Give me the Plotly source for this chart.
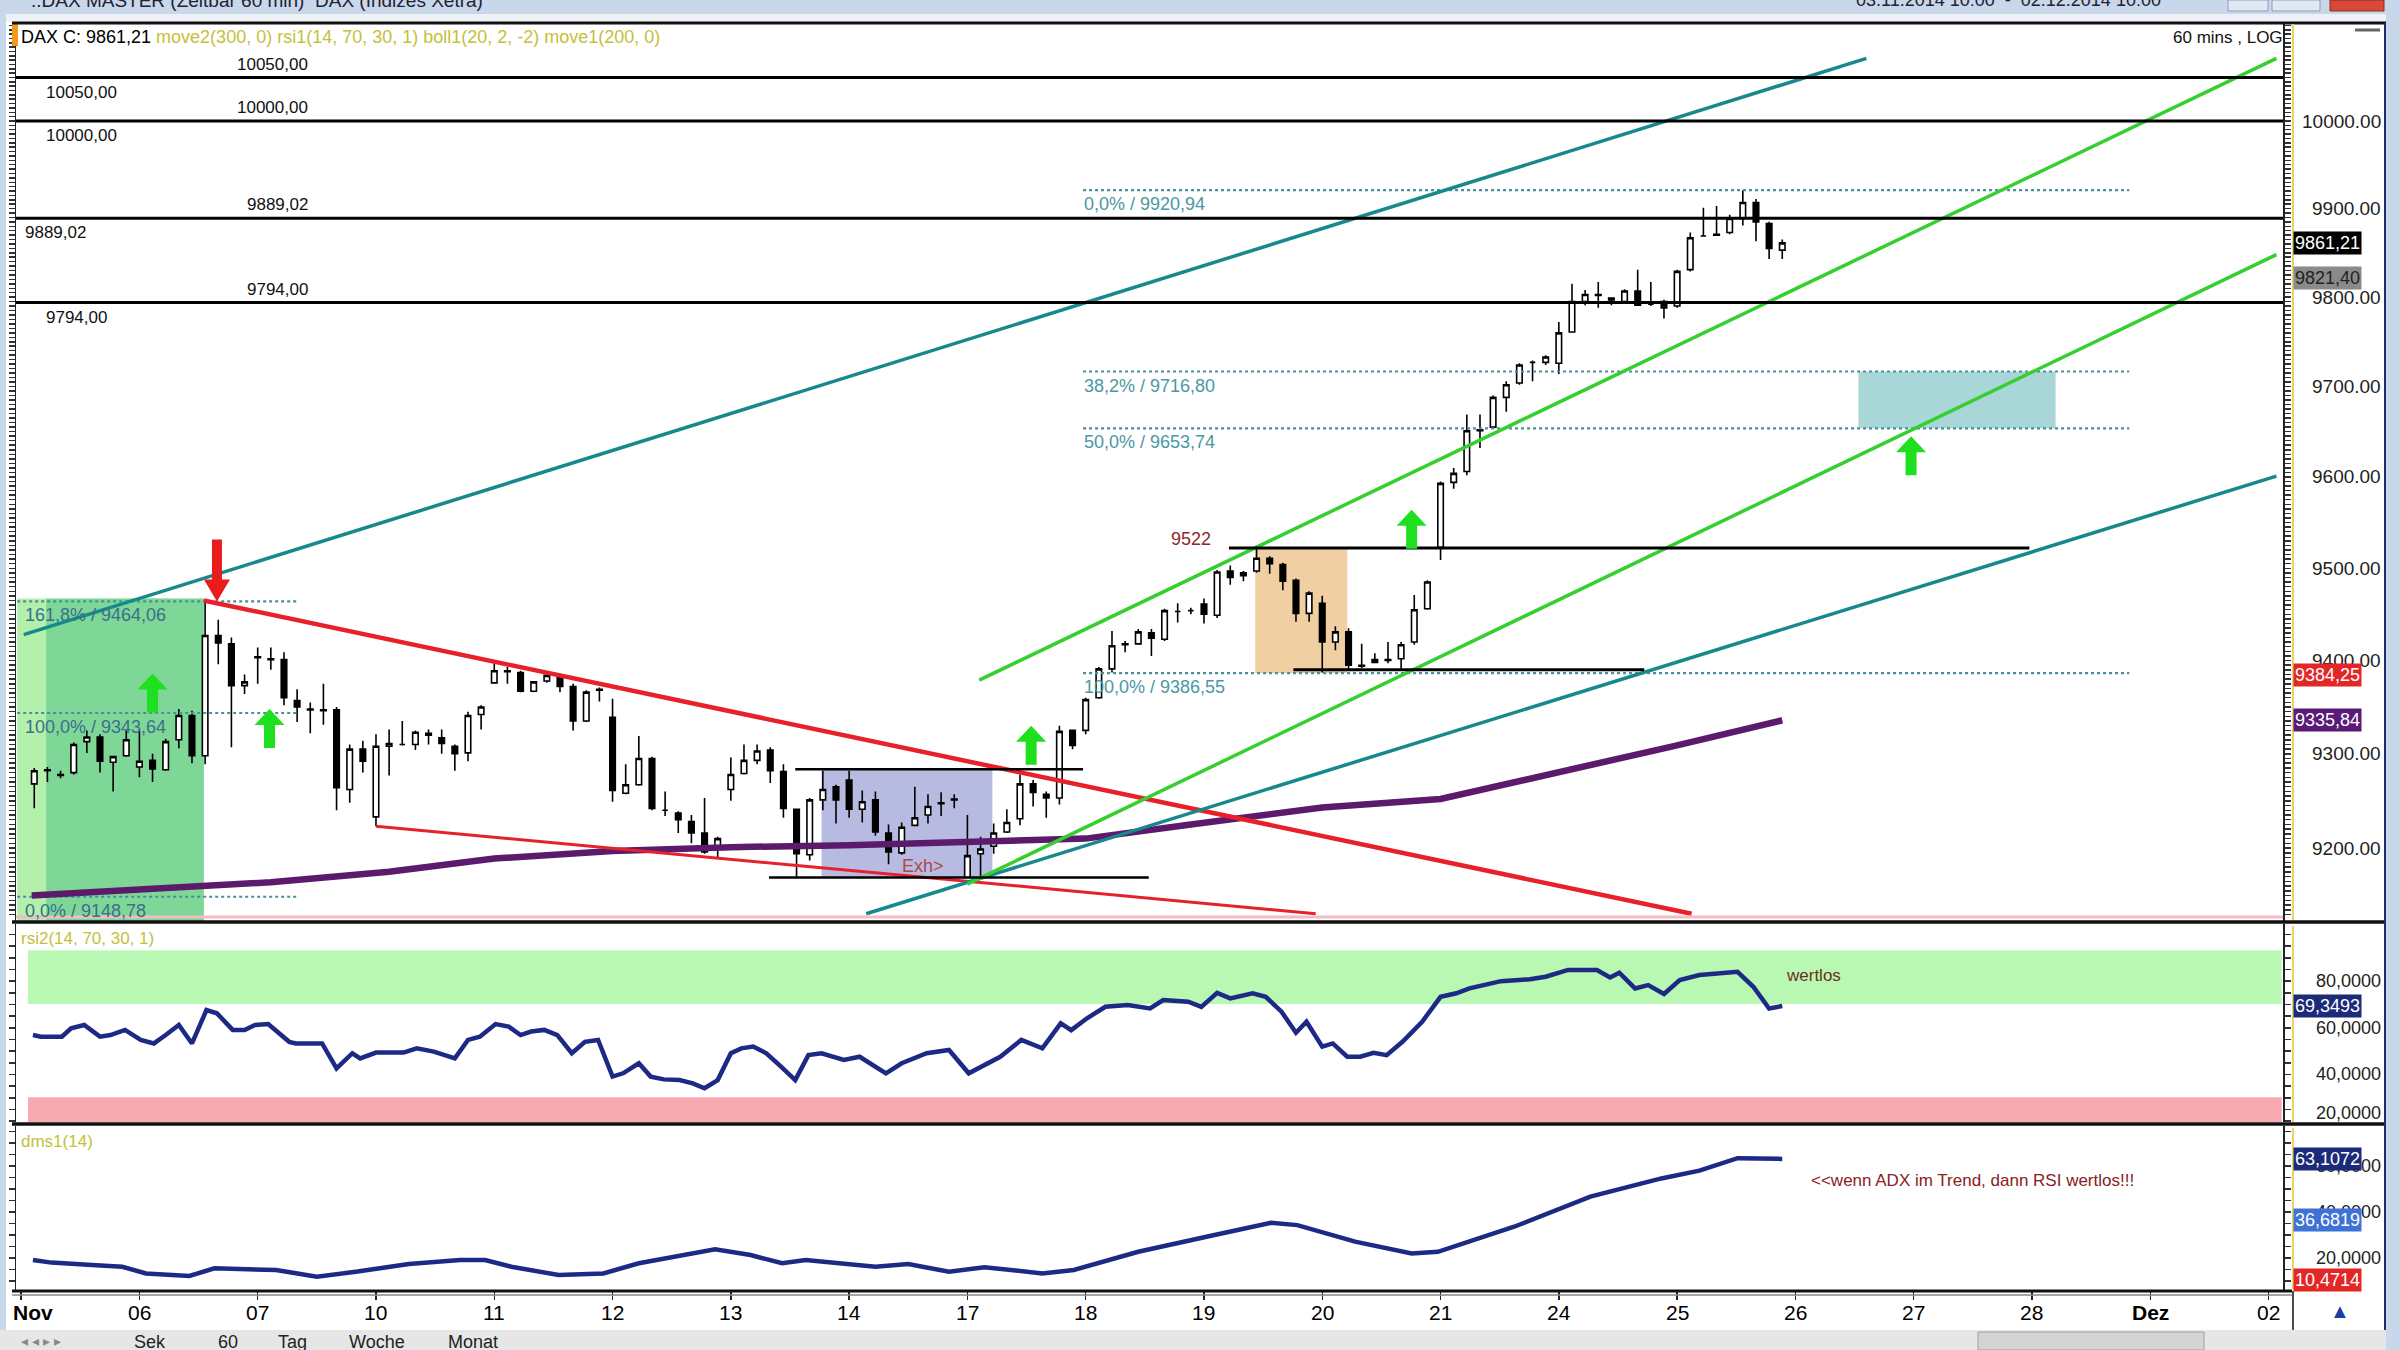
import math
import plotly.graph_objects as go

# ---------------- data ----------------
bars = list(range(134))  # hourly bars, Nov 5 .. Nov 25 2014

candle_open = [9268, 9282, 9278, 9280, 9313, 9318, 9291, 9298, 9286, 9293,
               9283, 9315, 9341, 9298, 9427, 9418, 9373, 9403, 9401, 9401,
               9357, 9347, 9346, 9347, 9262, 9305, 9233, 9308, 9310, 9310,
               9322, 9317, 9308, 9301, 9342, 9376, 9389, 9387, 9367, 9378,
               9382, 9372, 9335, 9368, 9339, 9258, 9267, 9295, 9240, 9237,
               9228, 9216, 9200, 9262, 9279, 9293, 9304, 9281, 9241, 9193,
               9251, 9265, 9272, 9241, 9251, 9216, 9195, 9224, 9235, 9247,
               9251, 9169, 9194, 9202, 9217, 9231, 9268, 9257, 9253, 9325,
               9325, 9360, 9391, 9417, 9418, 9430, 9423, 9453, 9454, 9461,
               9449, 9497, 9492, 9497, 9511, 9504, 9487, 9451, 9462, 9420,
               9431, 9395, 9398, 9401, 9402, 9420, 9456, 9523, 9594, 9606,
               9652, 9655, 9688, 9704, 9727, 9727, 9726, 9761, 9795, 9802,
               9799, 9795, 9807, 9792, 9795, 9790, 9831, 9869, 9870, 9873,
               9889, 9907, 9883, 9853]
candle_high = [9285, 9286, 9282, 9312, 9325, 9321, 9298, 9325, 9325, 9300,
               9316, 9348, 9346, 9464, 9444, 9425, 9385, 9414, 9414, 9409,
               9369, 9355, 9375, 9350, 9310, 9314, 9321, 9326, 9335, 9325,
               9326, 9326, 9310, 9345, 9352, 9398, 9393, 9389, 9378, 9385,
               9385, 9375, 9368, 9371, 9359, 9289, 9319, 9297, 9260, 9239,
               9235, 9253, 9212, 9296, 9310, 9310, 9307, 9289, 9241, 9253,
               9282, 9267, 9282, 9261, 9260, 9225, 9227, 9265, 9257, 9259,
               9257, 9235, 9212, 9226, 9241, 9278, 9272, 9260, 9330, 9326,
               9360, 9393, 9432, 9421, 9434, 9434, 9456, 9462, 9457, 9467,
               9498, 9503, 9497, 9522, 9513, 9506, 9489, 9475, 9470, 9437,
               9435, 9418, 9408, 9420, 9420, 9471, 9487, 9595, 9610, 9669,
               9669, 9690, 9706, 9726, 9729, 9735, 9772, 9815, 9808, 9817,
               9800, 9809, 9831, 9817, 9797, 9831, 9873, 9901, 9903, 9893,
               9921, 9911, 9885, 9865]
candle_low = [9242, 9270, 9274, 9278, 9301, 9280, 9260, 9297, 9275, 9270,
              9282, 9306, 9290, 9289, 9396, 9307, 9364, 9375, 9390, 9352,
              9334, 9322, 9331, 9240, 9248, 9280, 9223, 9277, 9309, 9304,
              9310, 9300, 9282, 9292, 9326, 9375, 9375, 9366, 9366, 9376,
              9366, 9325, 9334, 9356, 9249, 9257, 9266, 9240, 9234, 9216,
              9205, 9194, 9189, 9250, 9278, 9289, 9269, 9232, 9169, 9187,
              9240, 9226, 9232, 9227, 9213, 9183, 9193, 9223, 9226, 9234,
              9242, 9169, 9169, 9194, 9216, 9224, 9244, 9232, 9246, 9305,
              9321, 9359, 9387, 9409, 9418, 9405, 9421, 9441, 9450, 9440,
              9446, 9482, 9486, 9495, 9494, 9476, 9442, 9442, 9387, 9411,
              9390, 9392, 9397, 9397, 9390, 9417, 9455, 9509, 9587, 9602,
              9632, 9653, 9672, 9702, 9706, 9724, 9714, 9760, 9791, 9788,
              9791, 9793, 9790, 9790, 9776, 9788, 9829, 9869, 9869, 9871,
              9881, 9863, 9843, 9843]
candle_close = [9282, 9283, 9277, 9310, 9318, 9292, 9297, 9315, 9292, 9284,
                9313, 9341, 9298, 9427, 9419, 9373, 9377, 9404, 9402, 9360,
                9350, 9348, 9347, 9264, 9305, 9292, 9308, 9311, 9310, 9323,
                9320, 9311, 9300, 9341, 9350, 9389, 9388, 9367, 9377, 9384,
                9372, 9335, 9366, 9369, 9261, 9267, 9295, 9242, 9240, 9230,
                9216, 9196, 9210, 9278, 9293, 9303, 9282, 9242, 9194, 9251,
                9262, 9251, 9241, 9249, 9217, 9196, 9222, 9232, 9244, 9248,
                9252, 9192, 9199, 9216, 9227, 9268, 9259, 9253, 9324, 9309,
                9358, 9391, 9416, 9418, 9431, 9424, 9454, 9453, 9454, 9450,
                9496, 9490, 9495, 9511, 9505, 9486, 9451, 9473, 9420, 9431,
                9395, 9394, 9401, 9400, 9417, 9455, 9485, 9593, 9604, 9651,
                9651, 9688, 9702, 9724, 9727, 9733, 9760, 9795, 9803, 9803,
                9797, 9807, 9791, 9792, 9788, 9829, 9867, 9869, 9871, 9889,
                9907, 9885, 9855, 9861.21]

day_labels = ["Nov", "06", "07", "10", "11", "12", "13", "14", "17", "18",
              "19", "20", "21", "24", "25", "26", "27", "28", "Dez", "02"]
day_start_bar = [-1, 8, 17, 26, 35, 44, 53, 62, 71, 80,
                 89, 98, 107, 116, 125, 134, 143, 152, 161, 170]

ma_bar = [-0.2, 9, 18, 27, 35, 44, 53, 62, 71, 80, 88, 98, 107, 116, 125, 133]
ma_value = [9150, 9157, 9164, 9175, 9189, 9197, 9201, 9203, 9206, 9210,
            9225, 9243, 9252, 9280, 9309, 9335.84]

rsi_bar = [-0.1, 0.5, 2.1, 2.8, 3.8, 5.0, 5.8, 6.9, 8.1, 9.1,
           10.0, 11.0, 12.0, 13.1, 13.9, 15.1, 16.0, 16.8, 17.8, 19.4,
           19.9, 21.9, 23.0, 24.2, 24.8, 26.0, 28.1, 29.1, 30.4, 32.0,
           33.0, 33.9, 35.1, 36.1, 37.0, 37.8, 38.8, 39.8, 40.9, 41.9,
           42.9, 44.0, 44.8, 46.0, 46.9, 47.9, 49.1, 50.1, 51.0, 52.0,
           53.0, 53.8, 54.7, 55.7, 56.8, 57.9, 58.9, 59.9, 61.6, 62.8,
           64.8, 66.0, 67.9, 69.6, 71.1, 73.5, 75.1, 76.7, 78.1, 78.9,
           80.1, 81.5, 83.2, 84.9, 85.9, 87.8, 88.8, 90.0, 91.0, 92.7,
           93.7, 94.9, 96.0, 96.8, 98.0, 98.8, 99.9, 100.9, 101.9, 102.9,
           104.1, 105.6, 107.0, 108.2, 109.2, 110.7, 111.6, 113.8, 115.0, 116.7,
           118.9, 119.9, 120.6, 121.8, 122.8, 124.0, 125.2, 126.7, 129.6, 130.8,
           132.0, 133.0]
rsi_value = [56.9, 56.2, 56.2, 59.8, 61.2, 56.2, 56.9, 59.1, 54.8, 53.3,
             56.9, 61.2, 53.3, 67.6, 66.2, 59.1, 59.1, 61.2, 61.6, 54.0,
             53.3, 53.3, 42.6, 49.1, 46.9, 49.4, 49.4, 51.2, 49.8, 46.9,
             54.8, 56.2, 61.6, 60.5, 56.9, 58.4, 59.1, 56.9, 49.1, 54.0,
             54.8, 39.1, 40.5, 44.8, 39.1, 37.9, 37.6, 36.2, 34.1, 37.6,
             49.1, 51.2, 52.0, 49.1, 43.5, 37.6, 48.3, 49.1, 46.2, 47.6,
             40.5, 44.8, 49.1, 50.5, 40.5, 47.6, 54.8, 51.2, 61.9, 59.0,
             64.1, 69.0, 69.8, 68.3, 71.9, 71.2, 69.0, 75.0, 72.6, 74.8,
             73.3, 66.9, 57.9, 62.6, 51.9, 53.3, 47.6, 47.6, 49.3, 48.3,
             54.0, 62.6, 73.3, 74.8, 76.9, 79.1, 80.0, 80.8, 81.9, 84.8,
             84.8, 81.6, 83.6, 76.9, 78.3, 74.5, 80.5, 82.6, 84.0, 77.6,
             68.3, 69.35]

adx_bar = [-0.1, 1.3, 4.4, 6.7, 8.5, 11.8, 13.7, 18.4, 21.5, 24.6,
           28.5, 32.4, 34.3, 36.3, 39.9, 43.3, 46.0, 48.7, 51.8, 54.5,
           56.9, 58.7, 61.6, 64.0, 66.5, 69.6, 72.3, 76.7, 79.1, 84.0,
           89.8, 94.1, 96.1, 100.5, 104.8, 106.8, 112.6, 118.4, 123.8, 126.7,
           129.6, 131.5, 133.0]
adx_value = [19.1, 18.0, 17.0, 16.2, 13.3, 12.2, 15.5, 14.8, 11.9, 14.1,
             17.4, 19.1, 19.1, 16.2, 12.6, 13.3, 17.7, 20.6, 23.8, 21.3,
             17.7, 19.1, 17.4, 16.2, 17.4, 14.0, 16.0, 13.3, 14.8, 22.7,
             30.0, 35.3, 34.3, 27.1, 22.0, 22.7, 33.6, 46.7, 54.6, 58.0,
             63.4, 63.3, 63.1]

level_prices = [10050.0, 10000.0, 9889.02, 9794.0]
level_labels = ["10050,00", "10000,00", "9889,02", "9794,00"]
level_label_left_bar = [0.8, 0.8, -0.75, 0.8]

fib_left_prices = [9464.06, 9343.64, 9148.78]
fib_left_labels = ["161,8% / 9464,06", "100,0% / 9343,64", "0,0% / 9148,78"]
fib_left_span = [-1.3, 20.0]
fib_right_prices = [9920.94, 9716.80, 9653.74, 9386.55]
fib_right_labels = ["0,0% / 9920,94", "38,2% / 9716,80", "50,0% / 9653,74", "100,0% / 9386,55"]
fib_right_span = [79.8, 159.4]

red_upper_bars, red_upper_prices = [12.9, 126.1], [9465, 9131]
red_lower_bars, red_lower_prices = [26.0, 97.5], [9223, 9131]
teal_upper_bars, teal_upper_prices = [-0.8, 139.4], [9428, 10072]
teal_lower_bars, teal_lower_prices = [63.3, 170.6], [9131, 9601]
green_upper_bars, green_upper_prices = [71.9, 170.6], [9379, 10072]
green_lower_bars, green_lower_prices = [71.0, 170.6], [9162, 9848]

seg_9522_bars, seg_9522_price = [90.9, 151.8], 9522
seg_9390_bars, seg_9390_price = [95.8, 122.5], 9390
range_top_bars, range_top_price = [57.9, 79.8], 9283.5
range_bot_bars, range_bot_price = [55.9, 84.8], 9169

zone_green_light = ([-1.3, 12.9], [9100, 9467])
zone_green_dark = ([0.9, 12.9], [9100, 9467])
zone_lavender = ([59.9, 72.9], [9169, 9283.5])
zone_orange = ([92.9, 99.9], [9386.55, 9522])
zone_teal = ([138.8, 153.8], [9653.74, 9716.8])

up_arrow_bars = [9.0, 17.9, 75.85, 104.8, 142.8]
up_arrow_tips = [9386, 9348, 9330, 9564, 9645]
down_arrow_bar, down_arrow_tip = 13.9, 9464

price_ticks = [9200, 9300, 9400, 9500, 9600, 9700, 9800, 9900, 10000]
rsi_ticks = [20, 40, 60, 80]
adx_ticks = [20, 40, 60]

# ---------------- geometry ----------------
W, H = 2400, 1350
BAR_PX = 13.14      # pixels per bar
LN_PX = 8720.0      # pixels per natural-log unit of price
TOP = 23            # main panel top edge (px)
X_DOM = [16 / W, 2283 / W]
X_RANGE = [-1.39, 171.1]
def pf(y):  # figure pixel row -> paper
    return 1 - y / H
def xf(x):
    return x / W
Y1_DOM = [pf(921), pf(TOP)]
Y2_DOM = [pf(1122), pf(924)]
Y3_DOM = [pf(1290), pf(1126)]
Y1_RANGE = [math.log10(10000 * math.exp(-(921 - 121) / LN_PX)),
            math.log10(10000 * math.exp((121 - TOP) / LN_PX))]
Y2_RANGE = [19.63, 104.5]
Y3_RANGE = [6.09, 77.4]
L10 = math.log10
FONT = "Liberation Sans, Arial, sans-serif"
NARROW = "Liberation Sans Narrow, Liberation Sans, Arial, sans-serif"

fig = go.Figure()
shapes = []
ann = []

def zone(xs, ys, color):
    shapes.append(dict(type="rect", xref="x", yref="y4", x0=xs[0], x1=xs[1],
                       y0=L10(ys[0]), y1=L10(ys[1]), fillcolor=color,
                       line=dict(width=0), layer="below"))

zone(*zone_green_light, "#b2f0ab")
zone(*zone_green_dark, "#7ed796")
zone(*zone_lavender, "#b7bbe2")
zone(*zone_orange, "#f0cfa2")
zone(*zone_teal, "#a9d6d6")

# RSI bands
shapes.append(dict(type="rect", xref="x", yref="y2", x0=-0.48, x1=171.0, y0=70.2, y1=93.1,
                   fillcolor="#b8f8b2", line=dict(width=0), layer="below"))
shapes.append(dict(type="rect", xref="x", yref="y2", x0=-0.48, x1=171.0, y0=19.0, y1=30.2,
                   fillcolor="#f6a9b1", line=dict(width=0), layer="below"))

def line(xs, ys, color, width, dash=None, yaxis="y"):
    fig.add_trace(go.Scatter(x=xs, y=ys, mode="lines", yaxis=yaxis,
                             line=dict(color=color, width=width, dash=dash),
                             hoverinfo="skip", showlegend=False))

# fib dotted lines
for p in fib_left_prices:
    line(fib_left_span, [p, p], "#4a8f9c", 2.2, "dot")
for p in fib_right_prices:
    line(fib_right_span, [p, p], "#4a8f9c", 2.2, "dot")

# candles
fig.add_trace(go.Candlestick(
    x=bars, open=candle_open, high=candle_high, low=candle_low, close=candle_close,
    increasing=dict(line=dict(color="#000000", width=1.6), fillcolor="#ffffff"),
    decreasing=dict(line=dict(color="#000000", width=1.6), fillcolor="#000000"),
    whiskerwidth=0, hoverinfo="skip", showlegend=False, xaxis="x", yaxis="y"))

# moving average
line(ma_bar, ma_value, "#5c1a6c", 6.5)

# trend lines
line(red_upper_bars, red_upper_prices, "#e8202a", 4.5)
line(red_lower_bars, red_lower_prices, "#e8202a", 3)
line(teal_upper_bars, teal_upper_prices, "#17898c", 3.5)
line(teal_lower_bars, teal_lower_prices, "#17898c", 3.5)
line(green_upper_bars, green_upper_prices, "#35cf2f", 3.5)
line(green_lower_bars, green_lower_prices, "#35cf2f", 3.5)

# horizontal levels
for p in level_prices:
    line([-1.39, 171.1], [p, p], "#000000", 3)
line(seg_9522_bars, [seg_9522_price] * 2, "#000000", 3)
line(seg_9390_bars, [seg_9390_price] * 2, "#000000", 3)
line(range_top_bars, [range_top_price] * 2, "#000000", 2.5)
line(range_bot_bars, [range_bot_price] * 2, "#000000", 2.5)

# arrows
def arrow(bar, tip, up, color, hw, hh, sw, length):
    pts = [(0, 0), (hw, hh), (sw, hh), (sw, length), (-sw, length), (-sw, hh), (-hw, hh), (0, 0)]
    s = -1 if up else 1
    xs = [bar + dx / BAR_PX for dx, dy in pts]
    ys = [tip * math.exp(s * dy / LN_PX) for dx, dy in pts]
    fig.add_trace(go.Scatter(x=xs, y=ys, mode="lines", fill="toself", fillcolor=color,
                             line=dict(width=0, color=color), hoverinfo="skip",
                             showlegend=False, yaxis="y"))

for b, t in zip(up_arrow_bars, up_arrow_tips):
    arrow(b, t, True, "#1fe01f", 15, 16, 5.5, 39)
arrow(down_arrow_bar, down_arrow_tip, False, "#e81c1c", 13, 22, 5, 62)

# RSI and ADX
line(rsi_bar, rsi_value, "#1c2a86", 4.5, yaxis="y2")
line(adx_bar, adx_value, "#1c2a86", 4.5, yaxis="y3")

# ---------------- annotations ----------------
def text(x, y, t, color="#111", size=18, xanchor="left", yanchor="middle", xref="x", yref="y",
         yshift=0, family=FONT, bg=None, pad=0):
    d = dict(x=x, y=y, text=t, xref=xref, yref=yref, showarrow=False, xanchor=xanchor,
             yanchor=yanchor, yshift=yshift, font=dict(color=color, size=size, family=family),
             borderpad=pad)
    if bg:
        d["bgcolor"] = bg
    ann.append(d)

for p, t, lb in zip(level_prices, level_labels, level_label_left_bar):
    text(20.9, L10(p), t, xanchor="right", yanchor="bottom", yshift=3, size=17)
    text(lb, L10(p), t, xanchor="left", yanchor="top", yshift=-4, size=17)

for p, t in zip(fib_left_prices, fib_left_labels):
    text(-0.75, L10(p), t, color="#3a6f8d", yanchor="top", yshift=-3, size=18)
for p, t in zip(fib_right_prices, fib_right_labels):
    text(fib_right_span[0], L10(p), t, color="#4a98a2", yanchor="top", yshift=-3, size=18)

text(89.6, L10(seg_9522_price), "9522", color="#8b2a2a", xanchor="right", yshift=9, size=18)
text(67.6, L10(9180.6), "Exh>", color="#b04848", xanchor="center", size=18)

text(133.2, 82.6, "wertlos", color="#6b3020", yref="y2", size=17)
text(135.1, 53.9, "<<wenn ADX im Trend, dann RSI wertlos!!!", color="#8b2020", yref="y3", size=17)

text(xf(20), pf(37), '<span style="color:#000">DAX C: 9861,21</span> '
     '<span style="color:#c4c03a">move2(300, 0) rsi1(14, 70, 30, 1) boll1(20, 2, -2) move1(200, 0)</span>',
     xref="paper", yref="paper", size=18)
text(xf(2284), pf(37), "60 mins , LOG", xref="paper", yref="paper", xanchor="right", size=17)
text(xf(20), pf(938), "rsi2(14, 70, 30, 1)", color="#c4c03a", xref="paper", yref="paper", size=17)
text(xf(20), pf(1141), "dms1(14)", color="#c4c03a", xref="paper", yref="paper", size=17)

# right axis labels
for p in price_ticks:
    text(xf(2382), L10(p), f"{p:.2f}", xref="paper", xanchor="right", size=19, color="#222")
for v in rsi_ticks:
    text(xf(2382), v, f"{v},0000", xref="paper", yref="y2", xanchor="right", size=18, color="#222",
         yshift=(8 if v == 20 else 0))
for v in adx_ticks:
    text(xf(2382), v, f"{v},0000", xref="paper", yref="y3", xanchor="right", size=18, color="#222")

# value boxes
text(xf(2293), L10(9861.21), "9861,21", color="#fff", bg="#000", xref="paper", size=18, pad=1)
text(xf(2293), L10(9821.40), "9821,40", color="#222", bg="#8a8a8a", xref="paper", size=18, pad=1)
text(xf(2293), L10(9384.25), "9384,25", color="#fff", bg="#e32626", xref="paper", size=18, pad=1)
text(xf(2293), L10(9335.84), "9335,84", color="#fff", bg="#5b1a78", xref="paper", size=18, pad=1)
text(xf(2293), 69.3493, "69,3493", color="#fff", bg="#1c2a7a", xref="paper", yref="y2", size=18, pad=1)
text(xf(2293), 63.1072, "63,1072", color="#fff", bg="#1c2a7a", xref="paper", yref="y3", size=18, pad=1)
text(xf(2293), 36.6819, "36,6819", color="#fff", bg="#3f72d6", xref="paper", yref="y3", size=18, pad=1)
text(xf(2293), 10.4714, "10,4714", color="#fff", bg="#e32626", xref="paper", yref="y3", size=18, pad=1)

# date labels
for b, lab in zip(day_start_bar, day_labels):
    if lab == "Nov":
        text(xf(12), pf(1312), "<b>Nov</b>", xanchor="left", xref="paper", yref="paper",
             size=21, family=NARROW, color="#000")
    else:
        t = f"<b>{lab}</b>" if lab == "Dez" else lab
        text(b, pf(1312), t, xanchor="center", yref="paper", size=21, family=NARROW, color="#000")

# ---------------- window chrome / borders ----------------
def prect(x0, y0, x1, y1, color, line_color=None, lw=0, layer="above"):
    shapes.append(dict(type="rect", xref="paper", yref="paper", x0=xf(x0), x1=xf(x1),
                       y0=pf(y1), y1=pf(y0), fillcolor=color,
                       line=dict(width=lw, color=line_color or color), layer=layer))

def pline(x0, y0, x1, y1, color, w):
    shapes.append(dict(type="line", xref="paper", yref="paper", x0=xf(x0), x1=xf(x1),
                       y0=pf(y0), y1=pf(y1), line=dict(color=color, width=w), layer="above"))

prect(0, 0, 2400, 14, "#c8d7ea")
prect(0, 14, 2400, 22, "#eef1f5")
prect(0, 0, 6, 1350, "#c8d7ea")
prect(2386, 0, 2400, 1350, "#c8d7ea")
prect(2228, 0, 2268, 11, "#dfe8f3", "#8aa0bc", 1)
prect(2272, 0, 2320, 11, "#dfe8f3", "#8aa0bc", 1)
prect(2330, 0, 2384, 11, "#d9493a", "#8a2a20", 1)
prect(0, 1330, 2386, 1350, "#e6e6e6")
prect(1978, 1332, 2204, 1350, "#d4d4d4", "#a0a0a0", 1)
prect(12, 24, 18, 46, "#f39a1c")
pline(12, TOP, 2386, TOP, "#111", 3)
pline(12, 922, 2386, 922, "#111", 3.5)
pline(12, 1124, 2386, 1124, "#111", 3.5)
pline(12, 1291, 2292, 1291, "#111", 3)
pline(12, 1295, 2292, 1295, "#888", 1.5)
pline(2293, TOP + 1, 2293, 920, "#e6d36a", 2)
pline(2293, 926, 2293, 1122, "#e6d36a", 2)
pline(2293, 1128, 2293, 1289, "#e6d36a", 2)
pline(2385, TOP, 2385, 1330, "#1d2e6a", 2)
pline(2293, 1291, 2293, 1330, "#111", 1.5)
pline(16, 917, 2283, 917, "#f3bcc4", 3)
pline(2355, 30, 2380, 30, "#666", 3)

text(xf(30), pf(0), "..DAX MASTER (Zeitbar 60 min)  DAX (Indizes Xetra)", xref="paper", yref="paper",
     size=19, color="#223")
text(xf(1855), pf(0), "03.11.2014 10:00  -  02.12.2014 10:00", xref="paper", yref="paper",
     size=18, color="#223")
for xx, lab in zip([150, 228, 292, 377, 473], ["Sek", "60", "Tag", "Woche", "Monat"]):
    text(xf(xx), pf(1342), lab, xref="paper", yref="paper", xanchor="center", size=18, color="#222")
text(xf(20), pf(1341), "◂ ◂ ▸ ▸", xref="paper", yref="paper", size=14, color="#888")
text(xf(2340), pf(1311), "▲", xref="paper", yref="paper", xanchor="center", size=20, color="#1d3da0")

# ---------------- layout ----------------
def minor_ticks(lo, hi, step):
    out, v = [], lo
    while v <= hi + 1e-9:
        out.append(round(v, 4))
        v += step
    return out

fig.update_layout(
    width=W, height=H, margin=dict(l=0, r=0, t=0, b=0),
    paper_bgcolor="#ffffff", plot_bgcolor="#ffffff",
    showlegend=False, hovermode=False, boxgap=0.4,
    xaxis=dict(domain=X_DOM, range=X_RANGE, anchor="y3", showgrid=False, zeroline=False,
               tickvals=day_start_bar, ticks="outside", ticklen=9, tickwidth=1.5, tickcolor="#222",
               showticklabels=False, showline=False, rangeslider=dict(visible=False)),
    yaxis=dict(domain=Y1_DOM, type="log", range=Y1_RANGE, anchor="x", side="right",
               showgrid=False, zeroline=False, showticklabels=False,
               tickvals=minor_ticks(9130, 10110, 5), ticks="outside", ticklen=6, tickwidth=1.5,
               tickcolor="#333", showline=True, linecolor="#222", linewidth=1.5, mirror="ticks"),
    yaxis4=dict(overlaying="y", range=Y1_RANGE, visible=False, anchor="x"),
    yaxis2=dict(domain=Y2_DOM, range=Y2_RANGE, anchor="x", side="right", showgrid=False,
                zeroline=False, showticklabels=False, tickvals=minor_ticks(20, 100, 5),
                ticks="outside", ticklen=6, tickwidth=1.5, tickcolor="#333",
                showline=True, linecolor="#222", linewidth=1.5, mirror="ticks"),
    yaxis3=dict(domain=Y3_DOM, range=Y3_RANGE, anchor="x", side="right", showgrid=False,
                zeroline=False, showticklabels=False, tickvals=minor_ticks(10, 75, 5),
                ticks="outside", ticklen=6, tickwidth=1.5, tickcolor="#333",
                showline=True, linecolor="#222", linewidth=1.5, mirror="ticks"),
    shapes=shapes, annotations=ann,
)

fig.write_html("out.html", config={"displayModeBar": False, "staticPlot": True},
               post_script="document.body.style.margin='0';document.body.style.overflow='hidden';")
